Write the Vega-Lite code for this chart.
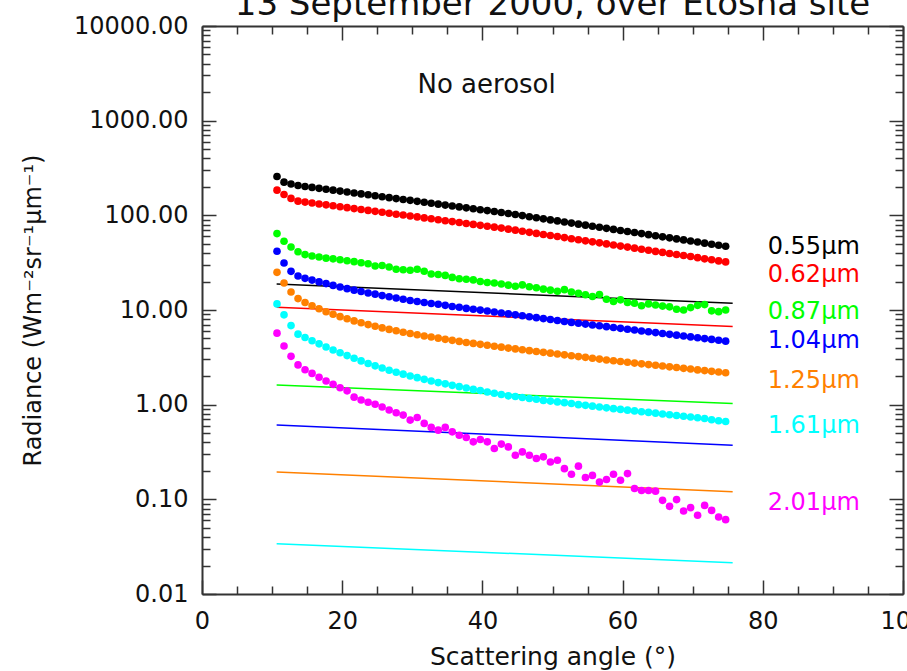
{
  "$schema": "https://vega.github.io/schema/vega-lite/v6.json",
  "width": 701,
  "height": 568,
  "autosize": {"type": "none"},
  "padding": {"left": 202, "top": 26, "right": 4, "bottom": 77},
  "background": "white",
  "title": {"text": "13 September 2000, over Etosha site", "fontSize": 34, "font": "DejaVu Sans", "fontWeight": "normal", "anchor": "middle", "baseline": "alphabetic", "offset": -35, "color": "#111111"},
  "config": {
    "view": {"stroke": null},
    "axis": {"domainColor": "#333333", "domainWidth": 2, "tickColor": "#333333", "tickWidth": 1.5, "labelFont": "DejaVu Sans", "labelFontSize": 24, "labelColor": "#111111", "titleFont": "DejaVu Sans", "titleFontSize": 24, "titleFontWeight": "normal", "titleColor": "#111111", "grid": false, "labelOverlap": false, "labelFlush": false, "labelBound": false}
  },
  "datasets": {
    "obs": [
      {"x":10.7,"w055":257,"w062":184.5,"w087":64.1,"w104":41.7,"w125":25.0,"w161":11.6,"w201":5.69},
      {"x":11.7,"w055":224,"w062":166,"w087":53.2,"w104":31.4,"w125":19.3,"w161":8.89,"w201":4.17},
      {"x":12.7,"w055":214,"w062":151,"w087":46.3,"w104":25.6,"w125":15.5,"w161":6.84,"w201":3.24},
      {"x":13.7,"w055":206.5,"w062":141.2,"w087":41.2,"w104":22.9,"w125":13.2,"w161":5.56,"w201":2.63},
      {"x":14.7,"w055":201.8,"w062":138.0,"w087":38.5,"w104":21.6,"w125":12.0,"w161":5.13,"w201":2.34},
      {"x":15.7,"w055":197.2,"w062":134.9,"w087":37.2,"w104":20.7,"w125":11.1,"w161":4.73,"w201":2.14},
      {"x":16.7,"w055":192.8,"w062":131.9,"w087":36.3,"w104":19.8,"w125":10.3,"w161":4.39,"w201":1.95},
      {"x":17.7,"w055":188.8,"w062":129.1,"w087":35.3,"w104":19.0,"w125":9.59,"w161":4.07,"w201":1.78},
      {"x":18.7,"w055":184.5,"w062":126.2,"w087":34.7,"w104":18.2,"w125":9.02,"w161":3.78,"w201":1.64},
      {"x":19.7,"w055":180.3,"w062":123.3,"w087":33.9,"w104":17.5,"w125":8.51,"w161":3.53,"w201":1.51},
      {"x":20.7,"w055":176.2,"w062":120.5,"w087":33.1,"w104":16.8,"w125":8.07,"w161":3.30,"w201":1.40},
      {"x":21.7,"w055":172.2,"w062":117.8,"w087":32.4,"w104":16.2,"w125":7.67,"w161":3.09,"w201":1.20},
      {"x":22.7,"w055":168.3,"w062":115.1,"w087":31.6,"w104":15.7,"w125":7.33,"w161":2.90,"w201":1.12},
      {"x":23.7,"w055":164.8,"w062":112.7,"w087":30.8,"w104":15.1,"w125":7.01,"w161":2.72,"w201":1.06},
      {"x":24.7,"w055":161.1,"w062":110.2,"w087":29.2,"w104":14.7,"w125":6.73,"w161":2.57,"w201":1.01},
      {"x":25.7,"w055":157.4,"w062":107.7,"w087":29.5,"w104":14.2,"w125":6.47,"w161":2.44,"w201":0.944},
      {"x":26.7,"w055":153.8,"w062":105.2,"w087":28.5,"w104":13.8,"w125":6.24,"w161":2.31,"w201":0.877},
      {"x":27.7,"w055":150.3,"w062":102.8,"w087":26.9,"w104":13.4,"w125":6.03,"w161":2.20,"w201":0.822},
      {"x":28.7,"w055":147.2,"w062":100.7,"w087":26.6,"w104":13.0,"w125":5.83,"w161":2.10,"w201":0.776},
      {"x":29.7,"w055":143.9,"w062":98.4,"w087":26.3,"w104":12.6,"w125":5.65,"w161":2.01,"w201":0.687},
      {"x":30.7,"w055":140.6,"w062":96.2,"w087":26.9,"w104":12.3,"w125":5.48,"w161":1.93,"w201":0.733},
      {"x":31.7,"w055":137.4,"w062":94.0,"w087":25.7,"w104":12.0,"w125":5.32,"w161":1.85,"w201":0.634},
      {"x":32.7,"w055":134.3,"w062":91.9,"w087":24.0,"w104":11.7,"w125":5.18,"w161":1.78,"w201":0.575},
      {"x":33.7,"w055":131.2,"w062":89.7,"w087":23.7,"w104":11.5,"w125":5.04,"w161":1.71,"w201":0.538},
      {"x":34.7,"w055":128.2,"w062":87.7,"w087":23.2,"w104":11.2,"w125":4.90,"w161":1.66,"w201":0.575},
      {"x":35.7,"w055":125.6,"w062":85.9,"w087":22.1,"w104":10.9,"w125":4.78,"w161":1.60,"w201":0.516},
      {"x":36.7,"w055":122.7,"w062":83.9,"w087":21.4,"w104":10.7,"w125":4.66,"w161":1.55,"w201":0.476},
      {"x":37.7,"w055":119.9,"w062":82.0,"w087":21.1,"w104":10.4,"w125":4.54,"w161":1.50,"w201":0.450},
      {"x":38.7,"w055":117.2,"w062":80.2,"w087":20.8,"w104":10.2,"w125":4.44,"w161":1.45,"w201":0.405},
      {"x":39.7,"w055":114.6,"w062":78.4,"w087":20.0,"w104":9.98,"w125":4.34,"w161":1.41,"w201":0.429},
      {"x":40.7,"w055":112.2,"w062":76.7,"w087":19.5,"w104":9.75,"w125":4.24,"w161":1.36,"w201":0.405},
      {"x":41.7,"w055":109.6,"w062":75.0,"w087":19.3,"w104":9.53,"w125":4.14,"w161":1.32,"w201":0.344},
      {"x":42.7,"w055":107.2,"w062":73.3,"w087":18.8,"w104":9.31,"w125":4.05,"w161":1.28,"w201":0.383},
      {"x":43.7,"w055":104.5,"w062":71.5,"w087":18.3,"w104":9.10,"w125":3.96,"w161":1.24,"w201":0.358},
      {"x":44.7,"w055":101.9,"w062":69.7,"w087":17.8,"w104":8.89,"w125":3.88,"w161":1.22,"w201":0.292},
      {"x":45.7,"w055":99.3,"w062":67.9,"w087":18.4,"w104":8.69,"w125":3.80,"w161":1.19,"w201":0.317},
      {"x":46.7,"w055":96.6,"w062":66.1,"w087":17.6,"w104":8.49,"w125":3.72,"w161":1.16,"w201":0.292},
      {"x":47.7,"w055":94.2,"w062":64.4,"w087":17.2,"w104":8.30,"w125":3.65,"w161":1.14,"w201":0.270},
      {"x":48.7,"w055":91.8,"w062":62.8,"w087":16.6,"w104":8.11,"w125":3.57,"w161":1.11,"w201":0.281},
      {"x":49.7,"w055":89.5,"w062":61.2,"w087":16.2,"w104":7.93,"w125":3.50,"w161":1.09,"w201":0.248},
      {"x":50.7,"w055":87.3,"w062":59.7,"w087":15.8,"w104":7.74,"w125":3.43,"w161":1.07,"w201":0.259},
      {"x":51.7,"w055":85.1,"w062":58.2,"w087":16.4,"w104":7.57,"w125":3.36,"w161":1.05,"w201":0.211},
      {"x":52.7,"w055":82.8,"w062":56.6,"w087":15.5,"w104":7.40,"w125":3.29,"w161":1.03,"w201":0.184},
      {"x":53.7,"w055":80.7,"w062":55.2,"w087":15.0,"w104":7.24,"w125":3.22,"w161":1.00,"w201":0.224},
      {"x":54.7,"w055":78.7,"w062":53.8,"w087":14.5,"w104":7.10,"w125":3.16,"w161":0.984,"w201":0.170},
      {"x":55.7,"w055":76.7,"w062":52.5,"w087":13.9,"w104":6.95,"w125":3.09,"w161":0.964,"w201":0.179},
      {"x":56.7,"w055":74.8,"w062":51.2,"w087":14.6,"w104":6.81,"w125":3.03,"w161":0.944,"w201":0.152},
      {"x":57.7,"w055":72.9,"w062":49.9,"w087":13.0,"w104":6.67,"w125":2.96,"w161":0.925,"w201":0.162},
      {"x":58.7,"w055":71.0,"w062":48.6,"w087":12.3,"w104":6.53,"w125":2.91,"w161":0.908,"w201":0.184},
      {"x":59.7,"w055":69.2,"w062":47.3,"w087":12.8,"w104":6.40,"w125":2.86,"w161":0.891,"w201":0.159},
      {"x":60.7,"w055":67.5,"w062":46.2,"w087":12.0,"w104":6.27,"w125":2.81,"w161":0.875,"w201":0.187},
      {"x":61.7,"w055":65.8,"w062":45.0,"w087":11.8,"w104":6.14,"w125":2.75,"w161":0.859,"w201":0.130},
      {"x":62.7,"w055":64.1,"w062":43.8,"w087":11.1,"w104":6.01,"w125":2.70,"w161":0.843,"w201":0.124},
      {"x":63.7,"w055":62.5,"w062":42.8,"w087":11.6,"w104":5.89,"w125":2.65,"w161":0.828,"w201":0.124},
      {"x":64.7,"w055":60.8,"w062":41.6,"w087":11.3,"w104":5.77,"w125":2.61,"w161":0.813,"w201":0.122},
      {"x":65.7,"w055":59.3,"w062":40.6,"w087":11.0,"w104":5.65,"w125":2.56,"w161":0.798,"w201":0.0975},
      {"x":66.7,"w055":57.8,"w062":39.5,"w087":10.8,"w104":5.53,"w125":2.51,"w161":0.783,"w201":0.0843},
      {"x":67.7,"w055":56.4,"w062":38.6,"w087":10.2,"w104":5.42,"w125":2.47,"w161":0.769,"w201":0.0993},
      {"x":68.7,"w055":55.0,"w062":37.6,"w087":10.0,"w104":5.31,"w125":2.42,"w161":0.755,"w201":0.0752},
      {"x":69.7,"w055":53.6,"w062":36.7,"w087":10.6,"w104":5.20,"w125":2.38,"w161":0.741,"w201":0.0817},
      {"x":70.7,"w055":52.2,"w062":35.7,"w087":11.2,"w104":5.09,"w125":2.33,"w161":0.728,"w201":0.0678},
      {"x":71.7,"w055":50.8,"w062":34.7,"w087":11.4,"w104":4.99,"w125":2.29,"w161":0.715,"w201":0.0863},
      {"x":72.7,"w055":49.5,"w062":33.9,"w087":9.8,"w104":4.89,"w125":2.25,"w161":0.692,"w201":0.0764},
      {"x":73.7,"w055":48.3,"w062":33.0,"w087":9.6,"w104":4.79,"w125":2.21,"w161":0.676,"w201":0.065},
      {"x":74.7,"w055":47.1,"w062":32.2,"w087":10.0,"w104":4.69,"w125":2.17,"w161":0.664,"w201":0.061}
    ],
    "model": [
      {"s":"w055","x":10.65,"y":18.8},{"s":"w055","x":75.7,"y":11.8},
      {"s":"w062","x":10.65,"y":10.7},{"s":"w062","x":75.7,"y":6.7},
      {"s":"w087","x":10.65,"y":1.61},{"s":"w087","x":75.7,"y":1.03},
      {"s":"w104","x":10.65,"y":0.61},{"s":"w104","x":75.7,"y":0.373},
      {"s":"w125","x":10.65,"y":0.195},{"s":"w125","x":75.7,"y":0.12},
      {"s":"w161","x":10.65,"y":0.034},{"s":"w161","x":75.7,"y":0.0214}
    ],
    "labels": [
      {"s":"w055","x":80.7,"y":46.7,"t":"0.55μm"},
      {"s":"w062","x":80.7,"y":23.6,"t":"0.62μm"},
      {"s":"w087","x":80.7,"y":9.57,"t":"0.87μm"},
      {"s":"w104","x":80.7,"y":4.75,"t":"1.04μm"},
      {"s":"w125","x":80.7,"y":1.79,"t":"1.25μm"},
      {"s":"w161","x":80.7,"y":0.597,"t":"1.61μm"},
      {"s":"w201","x":80.7,"y":0.0923,"t":"2.01μm"}
    ],
    "note": [{"x":40.6,"y":2371,"t":"No aerosol"}]
  },
  "layer": [
    {
      "data": {"name": "model"},
      "mark": {"type": "line", "strokeWidth": 1.5},
      "encoding": {
        "x": {"field": "x", "type": "quantitative", "scale": {"domain": [0, 100], "nice": false, "zero": false},
          "axis": {"orient": "top", "title": null, "labels": false, "values": [0,5,10,15,20,25,30,35,40,45,50,55,60,65,70,75,80,85,90,95,100],
            "tickSize": {"condition": {"test": "datum.value % 20 === 0", "value": -14}, "value": -8}}},
        "y": {"field": "y", "type": "quantitative", "scale": {"type": "log", "domain": [0.01, 10000], "nice": false},
          "axis": {"orient": "right", "title": null, "labels": false,
            "values": [0.01,0.02,0.03,0.04,0.05,0.06,0.07,0.08,0.09,0.1,0.2,0.3,0.4,0.5,0.6,0.7,0.8,0.9,1,2,3,4,5,6,7,8,9,10,20,30,40,50,60,70,80,90,100,200,300,400,500,600,700,800,900,1000,2000,3000,4000,5000,6000,7000,8000,9000,10000],
            "tickSize": {"condition": {"test": "abs(log(datum.value)/LN10 - round(log(datum.value)/LN10)) < 0.001", "value": -14}, "value": -8}}},
        "color": {"field": "s", "type": "nominal",
          "scale": {"domain": ["w055","w062","w087","w104","w125","w161","w201"], "range": ["#000000","#ff0000","#00ff00","#0000ff","#ff8000","#00ffff","#ff00ff"]},
          "legend": null}
      }
    },
    {
      "data": {"name": "obs"},
      "transform": [{"fold": ["w055","w062","w087","w104","w125","w161","w201"], "as": ["s", "y"]}],
      "mark": {"type": "circle", "size": 58, "opacity": 1},
      "encoding": {
        "x": {"field": "x", "type": "quantitative", "scale": {"domain": [0, 100], "nice": false, "zero": false},
          "axis": {"orient": "bottom", "title": "Scattering angle (°)", "titleY": 62, "titleBaseline": "middle", "titleFontSize": 25,
            "values": [0,5,10,15,20,25,30,35,40,45,50,55,60,65,70,75,80,85,90,95,100],
            "labelExpr": "datum.value % 20 === 0 ? datum.label : ''",
            "labelPadding": 29,
            "tickSize": {"condition": {"test": "datum.value % 20 === 0", "value": -14}, "value": -8}}},
        "y": {"field": "y", "type": "quantitative", "scale": {"type": "log", "domain": [0.01, 10000], "nice": false},
          "axis": {"orient": "left", "title": "Radiance (Wm⁻²sr⁻¹μm⁻¹)", "titleX": -169, "titleBaseline": "middle",
            "values": [0.01,0.02,0.03,0.04,0.05,0.06,0.07,0.08,0.09,0.1,0.2,0.3,0.4,0.5,0.6,0.7,0.8,0.9,1,2,3,4,5,6,7,8,9,10,20,30,40,50,60,70,80,90,100,200,300,400,500,600,700,800,900,1000,2000,3000,4000,5000,6000,7000,8000,9000,10000],
            "labelExpr": "abs(log(datum.value)/LN10 - round(log(datum.value)/LN10)) < 0.001 ? format(datum.value, '.2f') : ''",
            "labelPadding": 28,
            "tickSize": {"condition": {"test": "abs(log(datum.value)/LN10 - round(log(datum.value)/LN10)) < 0.001", "value": -14}, "value": -8}}},
        "color": {"field": "s", "type": "nominal", "legend": null}
      }
    },
    {
      "data": {"name": "labels"},
      "mark": {"type": "text", "align": "left", "baseline": "middle", "font": "DejaVu Sans", "fontSize": 24},
      "encoding": {
        "x": {"field": "x", "type": "quantitative", "axis": null},
        "y": {"field": "y", "type": "quantitative", "axis": null},
        "text": {"field": "t"},
        "color": {"field": "s", "type": "nominal", "legend": null}
      }
    },
    {
      "data": {"name": "note"},
      "mark": {"type": "text", "align": "center", "baseline": "middle", "font": "DejaVu Sans", "fontSize": 26, "color": "#111111"},
      "encoding": {
        "x": {"field": "x", "type": "quantitative", "axis": null},
        "y": {"field": "y", "type": "quantitative", "axis": null},
        "text": {"field": "t"}
      }
    }
  ],
  "resolve": {"axis": {"x": "independent", "y": "independent"}}
}
